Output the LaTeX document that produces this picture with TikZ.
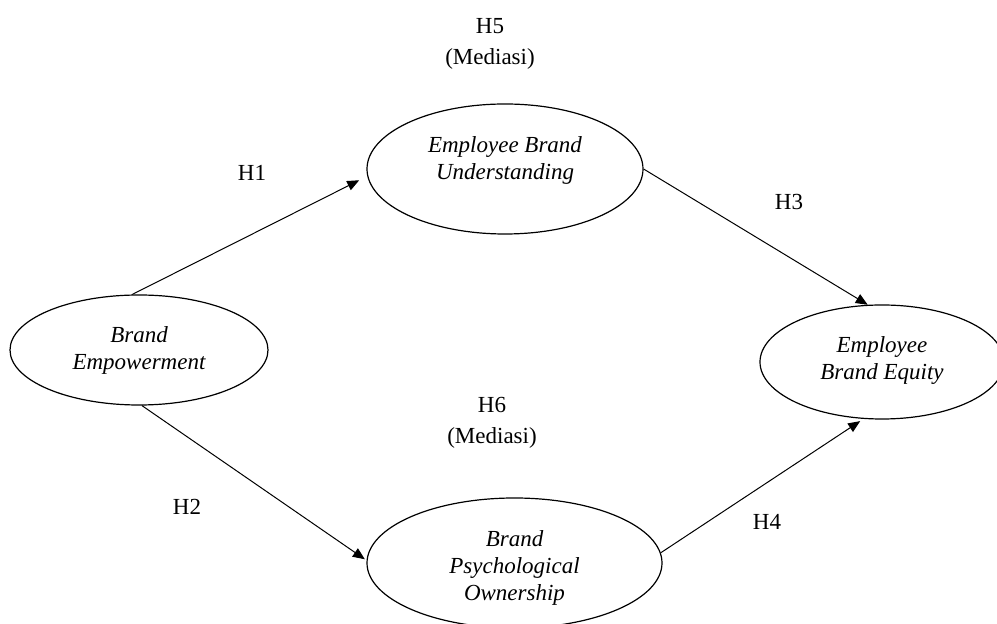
\documentclass[tikz,border=0pt]{standalone}
\usepackage{fontspec}
\setmainfont{Liberation Serif}
\usetikzlibrary{arrows.meta,shapes.geometric}
\begin{document}
\begin{tikzpicture}[x=0.5pt,y=-0.5pt,
  construct/.style={ellipse, draw, line width=0.6pt, inner sep=0pt},
  ctext/.style={font=\fontsize{11.5}{13.5}\selectfont\itshape, align=center, inner sep=0pt},
  hyp/.style={font=\fontsize{11.5}{13.5}\selectfont, align=center, inner sep=0pt},
  arr/.style={-{Triangle[length=6pt,width=5pt]}, line width=0.5pt}]
\useasboundingbox (0,0) rectangle (997,624);
\clip (0,0) rectangle (997,624);
% constructs
\node[construct, minimum width=129pt, minimum height=55pt] (be) at (139,350) {};
\node[construct, minimum width=138pt, minimum height=65pt] (ebu) at (505,169) {};
\node[construct, minimum width=122pt, minimum height=57pt] (ebe) at (882,362) {};
\node[construct, minimum width=147.5pt, minimum height=65pt] (bpo) at (514.5,563) {};
% construct texts
\node[ctext] (be-t) at (be.center) {Brand\\Empowerment};
\node[ctext] (ebu-t) at ([yshift=4.2pt]ebu.center) {Employee Brand\\Understanding};
\node[ctext] (ebe-t) at ([yshift=0.6pt]ebe.center) {Employee\\Brand Equity};
\node[ctext] (bpo-t) at ([yshift=-2.6pt]bpo.center) {Brand\\Psychological\\Ownership};
% connectors
\draw[arr, shorten >=4.5pt] (be.97) -- (ebu.183);
\draw[arr] (ebu.east) -- (ebe.104);
\draw[arr, shorten >=1pt] (be.273) -- (bpo.179);
\draw[arr, shorten >=2pt] (bpo.4) -- (ebe.252);
% hypothesis labels
\node[hyp] (h1) at (252,173) {H1};
\node[hyp] (h2) at (187,507) {H2};
\node[hyp] (h3) at (789,202) {H3};
\node[hyp] (h4) at (767,522) {H4};
\node[hyp] (h5) at (490,44) {H5\\[2pt](Mediasi)};
\node[hyp] (h6) at (492,423) {H6\\[2pt](Mediasi)};
\end{tikzpicture}
\end{document}
